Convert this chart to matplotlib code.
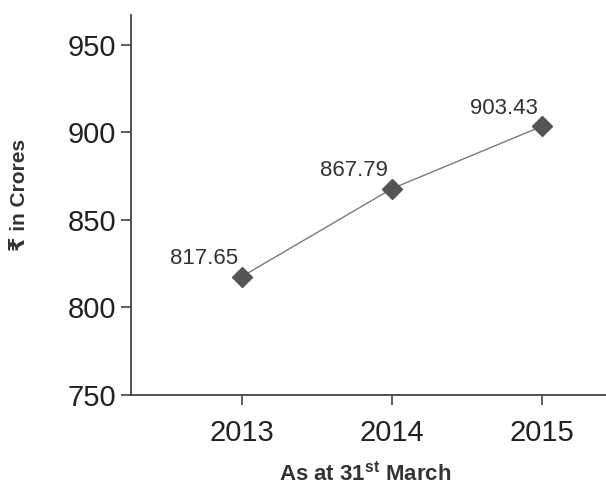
import matplotlib
matplotlib.use("Agg")
import matplotlib.pyplot as plt

years = [2013, 2014, 2015]
values = [817.65, 867.79, 903.43]
value_labels = ["817.65", "867.79", "903.43"]
yticks = [750, 800, 850, 900, 950]

plt.rcParams['font.family'] = ['Liberation Sans', 'DejaVu Sans']
plt.rcParams['mathtext.fontset'] = 'custom'
plt.rcParams['mathtext.bf'] = 'Liberation Sans:bold'

fig = plt.figure(figsize=(6.06, 4.92), dpi=100)
ax = fig.add_axes([0.216, 0.197, 0.79, 0.773])

ax.plot(years, values, color="#7a7a7a", lw=1.0, zorder=1)
ax.plot(years, values, ls="none", marker="D", ms=10, color="#555555", zorder=2)

for x, y, t in zip(years, values, value_labels):
    ax.annotate(t, (x, y), xytext=(-3, 9), textcoords="offset points",
                ha="right", va="baseline", fontsize=16, color="#333333")

ax.set_xlim(2012.26, 2015.45)
ax.set_ylim(750, 967)
ax.set_xticks(years)
ax.set_yticks(yticks)
ax.tick_params(labelsize=21, length=7, width=1.2, color="#444444", labelcolor="#222222")
ax.tick_params(axis="x", pad=10)

for s in ["top", "right"]:
    ax.spines[s].set_visible(False)
for s in ["left", "bottom"]:
    ax.spines[s].set_color("#444444")
    ax.spines[s].set_linewidth(1.3)

ax.set_ylabel("₹ in Crores", fontsize=15, fontweight="bold", color="#333333")
ax.yaxis.set_label_coords(-0.213, 0.525)
ax.set_xlabel(r"As at 31$^{\mathbf{st}}$ March", fontsize=16, fontweight="bold",
              color="#333333")
ax.xaxis.set_label_coords(0.49, -0.175)

fig.savefig("out.png", dpi=100)
